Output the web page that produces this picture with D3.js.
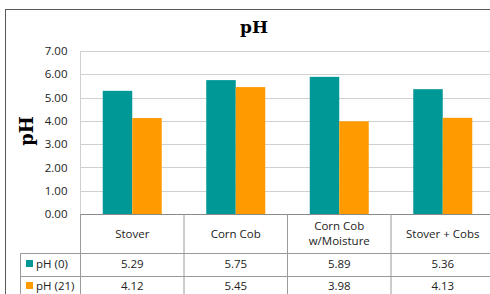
<!DOCTYPE html>
<html>
<head>
<meta charset="utf-8">
<script src="https://cdn.jsdelivr.net/npm/d3@7"></script>
<style>
  body { margin: 0; background: #fff; }
  #chart { width: 490px; height: 294px; overflow: hidden; }
</style>
</head>
<body>
<div id="chart"></div>
<script>
// chart data
var categories = ["Stover", "Corn Cob", "Corn Cob\nw/Moisture", "Stover + Cobs"];
var seriesNames = ["pH (0)", "pH (21)"];
var ph0 = [5.29, 5.75, 5.89, 5.36];
var ph21 = [4.12, 5.45, 3.98, 4.13];
var yTicks = [0, 1, 2, 3, 4, 5, 6, 7];
var colors = ["#009797", "#ff9a00"];

function init() {
    var container = d3.select("#chart");
    var w = 490, h = 294;

    var svg = container.append("svg")
                .attr("width", w)
                .attr("height", h);

    var left = 80.5, right = 494.5, top = 51, bottom = 214;
    var seriesValues = [ph0, ph21];

    // outer frame (cut off at right and bottom in the source)
    svg.append("rect")
        .attr("x", 5.5).attr("y", 9.5)
        .attr("width", 500).attr("height", 300)
        .attr("fill", "none")
        .attr("stroke", "#5a5a5a")
        .attr("stroke-width", 1);

    var x = d3.scaleBand()
                .domain(categories)
                .range([left, right])
                .paddingInner(0).paddingOuter(0);

    var x1 = d3.scaleBand()
                .domain(seriesNames)
                .range([0, x.bandwidth()])
                .paddingInner(0).paddingOuter(0.754);

    var y = d3.scaleLinear()
                .domain([0, 7])
                .range([bottom, top]);

    // gridlines
    svg.append("g")
        .selectAll("line")
        .data(yTicks.filter(function(d) { return d > 0; }))
        .enter()
        .append("line")
        .attr("x1", left).attr("x2", right)
        .attr("y1", function(d) { return Math.round(y(d)) + 0.5; })
        .attr("y2", function(d) { return Math.round(y(d)) + 0.5; })
        .attr("stroke", "#d0d0d0");

    // left axis line
    svg.append("line")
        .attr("x1", left).attr("x2", left)
        .attr("y1", top).attr("y2", bottom)
        .attr("stroke", "#d0d0d0");

    // y tick labels
    var yAxis = d3.axisLeft(y)
                .tickValues(yTicks)
                .tickFormat(d3.format(".2f"))
                .tickSize(0)
                .tickPadding(13);
    var gy = svg.append("g")
        .attr("transform", "translate(" + left + ",0)")
        .call(yAxis);
    gy.select(".domain").remove();
    gy.selectAll("text")
        .attr("font-family", "'Open Sans', sans-serif")
        .attr("font-size", "11.5px")
        .attr("fill", "#222");

    // bars
    var groups = svg.append("g")
        .selectAll("g")
        .data(categories)
        .enter()
        .append("g")
        .attr("transform", function(d) { return "translate(" + x(d) + ",0)"; });

    groups.selectAll("rect")
        .data(function(d, i) {
            return seriesNames.map(function(s, j) {
                return { series: s, value: seriesValues[j][i], color: colors[j] };
            });
        })
        .enter()
        .append("rect")
        .attr("x", function(d) { return x1(d.series); })
        .attr("width", x1.bandwidth())
        .attr("y", function(d) { return y(d.value); })
        .attr("height", function(d) { return bottom - y(d.value); })
        .attr("fill", function(d) { return d.color; });

    // table below the plot
    var row1 = 253.5, row2 = 276.5, row3 = 299.5, legLeft = 20.5;
    var lineCol = "#9a9a9a";
    var tbl = svg.append("g");

    tbl.append("line")
        .attr("x1", left).attr("x2", right)
        .attr("y1", bottom + 0.5).attr("y2", bottom + 0.5)
        .attr("stroke", "#8a8a8a");

    [row1, row2, row3].forEach(function(ry) {
        tbl.append("line")
            .attr("x1", legLeft).attr("x2", right)
            .attr("y1", ry).attr("y2", ry)
            .attr("stroke", lineCol);
    });

    tbl.append("line")
        .attr("x1", legLeft).attr("x2", legLeft)
        .attr("y1", row1).attr("y2", row3)
        .attr("stroke", lineCol);

    tbl.selectAll(".vdiv")
        .data(categories)
        .enter()
        .append("line")
        .attr("class", "vdiv")
        .attr("x1", function(d) { return x(d); })
        .attr("x2", function(d) { return x(d); })
        .attr("y1", bottom).attr("y2", row3)
        .attr("stroke", lineCol);

    // category labels
    tbl.selectAll(".cat")
        .data(categories)
        .enter()
        .append("text")
        .attr("class", "cat")
        .attr("text-anchor", "middle")
        .attr("font-family", "'Open Sans', sans-serif")
        .attr("font-size", "11.5px")
        .attr("fill", "#222")
        .each(function(d) {
            var lines = d.split("\n");
            var cx = x(d) + x.bandwidth() / 2;
            var cy = (bottom + row1) / 2 + 4 - (lines.length - 1) * 7.5;
            var t = d3.select(this);
            lines.forEach(function(l, k) {
                t.append("tspan")
                    .attr("x", cx)
                    .attr("y", cy + k * 15)
                    .text(l);
            });
        });

    // value rows with legend keys
    var rowTops = [row1, row2];
    seriesNames.forEach(function(s, j) {
        var base = rowTops[j] + 14.5 - j;
        tbl.append("rect")
            .attr("x", 26).attr("y", base - 8)
            .attr("width", 7).attr("height", 7)
            .attr("fill", colors[j]);
        tbl.append("text")
            .attr("x", 36).attr("y", base)
            .attr("font-family", "'Open Sans', sans-serif")
            .attr("font-size", "11.5px")
            .attr("fill", "#222")
            .text(s);
        tbl.selectAll(".v" + j)
            .data(seriesValues[j])
            .enter()
            .append("text")
            .attr("x", function(d, i) { return x(categories[i]) + x.bandwidth() / 2; })
            .attr("y", base)
            .attr("text-anchor", "middle")
            .attr("font-family", "'Open Sans', sans-serif")
            .attr("font-size", "11.5px")
            .attr("fill", "#222")
            .text(function(d) { return d3.format(".2f")(d); });
    });

    // titles
    svg.append("text")
        .attr("x", 254).attr("y", 33)
        .attr("text-anchor", "middle")
        .attr("font-family", "'DejaVu Serif', serif")
        .attr("font-weight", "bold")
        .attr("font-size", "17px")
        .text("pH");

    svg.append("text")
        .attr("transform", "translate(33,131) rotate(-90)")
        .attr("text-anchor", "middle")
        .attr("font-family", "'DejaVu Serif', serif")
        .attr("font-weight", "bold")
        .attr("font-size", "18px")
        .text("pH");
}

window.onload = init;
</script>
</body>
</html>
